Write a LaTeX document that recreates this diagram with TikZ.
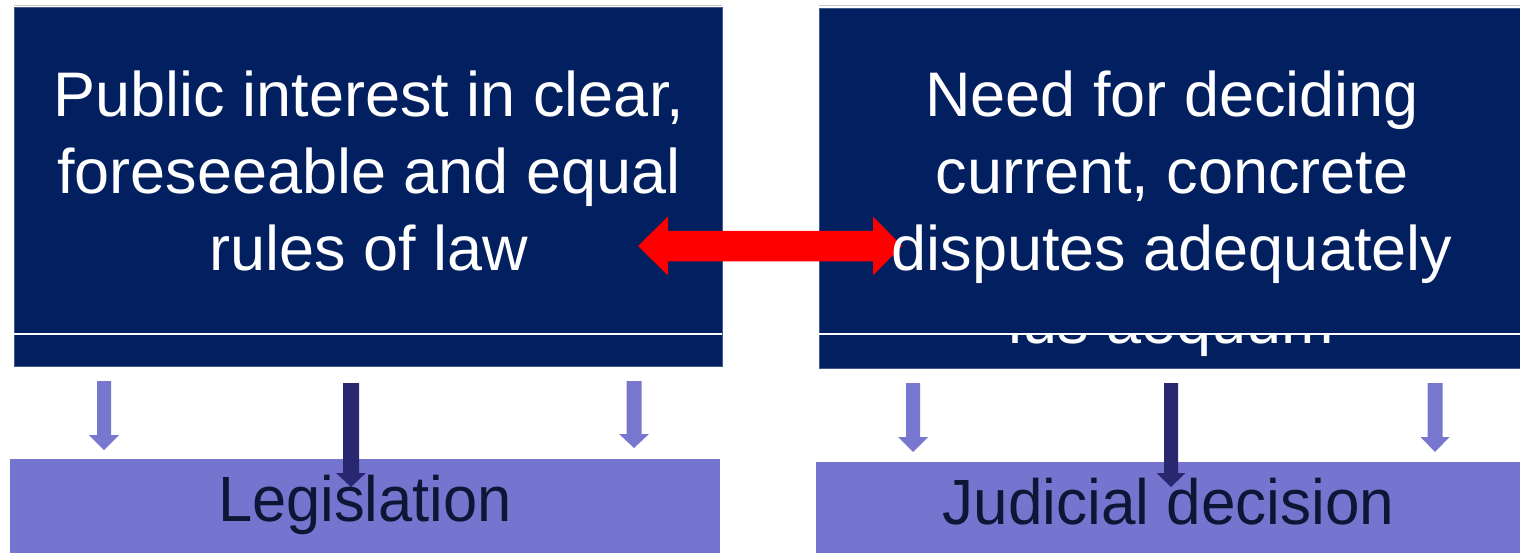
\documentclass[tikz,border=0pt]{standalone}
\usepackage{fontspec}
\setmainfont{Liberation Sans}
\definecolor{navy}{HTML}{022060}
\definecolor{lilac}{HTML}{7575CF}
\definecolor{lilacarrow}{HTML}{7777D0}
\definecolor{darkarrow}{HTML}{2A2771}
\definecolor{bottomtext}{HTML}{0B1735}
\definecolor{topedge}{HTML}{C4C6D0}
\newcommand{\blkdown}[7]{%
  \fill[#1] ({#2-#6},#3) -- ({#2+#6},#3) -- ({#2+#6},#4) -- ({#2+#7},#4)
    -- (#2,#5) -- ({#2-#7},#4) -- ({#2-#6},#4) -- cycle;}
\tikzset{
  topbox/.style={rectangle, fill=navy, draw=navy!75!white, line width=0.6pt, inner sep=0pt, outer sep=0pt},
  botbox/.style={rectangle, fill=lilac, inner sep=0pt, outer sep=0pt},
  toptext/.style={anchor=base, text=white, inner sep=0pt, font=\fontsize{63}{77}\selectfont},
  bottext/.style={anchor=base, text=bottomtext, inner sep=0pt, font=\fontsize{64}{77}\selectfont},
  whiteline/.style={draw=white, line width=2pt},
  greyline/.style={draw=topedge, line width=1pt}
}
\begin{document}
\begin{tikzpicture}[x=1pt,y=-1pt]
\useasboundingbox (0,0) rectangle (1520,553);
\fill[white] (0,0) rectangle (1520,553);
% top boxes
\node[topbox, minimum width=708pt, minimum height=359pt] (pub) at (368,186.5) {};
\node[topbox, minimum width=703pt, minimum height=360pt] (need) at (1170.5,188) {};
\draw[greyline] (14,5.5) -- (722,5.5);
\draw[greyline] (819,5.5) -- (1520,5.5);
% hidden text below the line in right box
\begin{scope}
\clip (819,334) rectangle (1520,368);
\node[toptext] (ius) at (1171,343) {ius aequum};
\end{scope}
\draw[whiteline] (14,333.7) -- (722,333.7);
\draw[whiteline] (819,333.7) -- (1520,333.7);
% bottom boxes
\node[botbox, minimum width=710pt, minimum height=96pt] (leg) at (365,507) {};
\node[botbox, minimum width=704pt, minimum height=93pt] (jud) at (1168,508.5) {};
% red double arrow
\fill[red] (638,246) -- (668,216.5) -- (668,231) -- (873,231) -- (873,216.5)
  -- (902,246) -- (873,275.5) -- (873,261.5) -- (668,261.5) -- (668,275.5) -- cycle;
% texts in top boxes
\node[toptext] (p1) at (369,117) {Public interest in clear,};
\node[toptext] (p2) at (369,194) {foreseeable and equal};
\node[toptext] (p3) at (369,271) {rules of law};
\node[toptext] (n1) at (1172,117) {Need for deciding};
\node[toptext] (n2) at (1172,194) {current, concrete};
\node[toptext] (n3) at (1172,271) {disputes adequately};
% down arrows
\blkdown{lilacarrow}{104}{381}{435}{450}{7}{15}
\blkdown{lilacarrow}{634}{381}{434}{448}{7.5}{15}
\blkdown{darkarrow}{351}{383}{473}{487}{8}{15}
\blkdown{lilacarrow}{913}{383}{437}{452}{7}{15}
\blkdown{lilacarrow}{1435}{383}{437}{452}{7.5}{14.5}
\blkdown{darkarrow}{1171}{383}{473}{487}{7}{14.5}
% bottom texts
\node[bottext] (legt) at (365,521.7) {\scalebox{0.96}[1]{Legislation}};
\node[bottext] (judt) at (1168.5,524) {\scalebox{0.97}[1]{Judicial decision}};
\end{tikzpicture}
\end{document}
